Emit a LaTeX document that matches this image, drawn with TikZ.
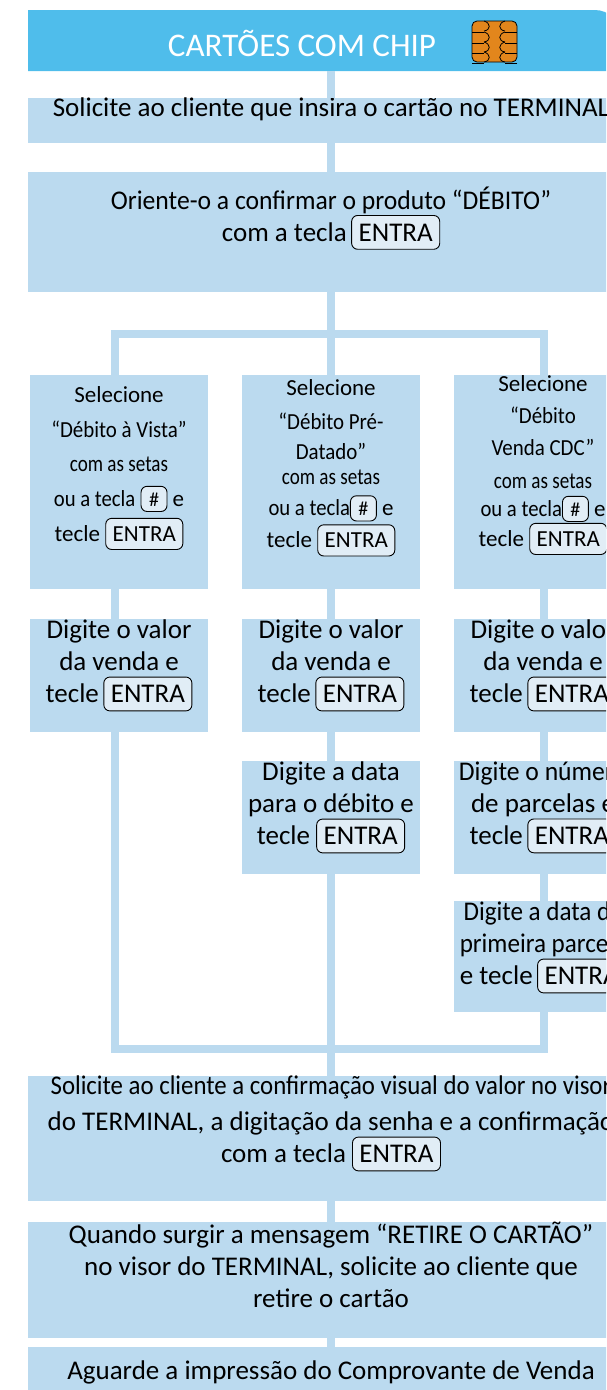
\documentclass[tikz,border=0pt]{standalone}
\usepackage{fontspec}
\setmainfont{Carlito}
\definecolor{boxblue}{HTML}{BBDAEF}
\definecolor{headblue}{HTML}{4FBDEB}
\definecolor{keyblue}{HTML}{E1EDF6}
\definecolor{chiporange}{HTML}{E2861C}
\tikzset{
	stepbox/.style={fill=boxblue,inner sep=0pt,outer sep=0pt,align=center,text=black},
	widebox/.style={stepbox,minimum width=606pt,font=\fontsize{27}{32}\selectfont},
	colbox/.style={stepbox,minimum width=178pt,font=\fontsize{27}{32}\selectfont},
	selbox/.style={colbox,minimum height=214pt,font=\fontsize{23}{30}\selectfont},
	link/.style={boxblue,line width=8pt,line join=miter},
	keycap/.style={draw=black,fill=keyblue,line width=.9pt,rounded corners=6pt,outer sep=0pt,minimum width=0pt,minimum height=0pt,text height=.66em,text depth=0pt,text=black}
}
\newcommand{\tecla}[1]{\raisebox{0pt}[0pt][0pt]{\tikz[baseline=(k.base)]\node[keycap,inner ysep=8pt,inner xsep=7pt] (k) {#1};}}
\newcommand{\teclinha}[1]{\raisebox{0pt}[0pt][0pt]{\tikz[baseline=(h.base)]\node[keycap,inner ysep=5pt,inner xsep=8pt,font=\fontsize{20}{24}\selectfont] (h) {#1};}}
\newcommand{\sqz}[2]{\scalebox{#1}[1]{#2}}
\begin{document}
\begin{tikzpicture}[x=1pt,y=-1pt]
	\useasboundingbox (0,0) rectangle (606,1390);
	\clip (0,0) rectangle (606,1390);

	\fill[headblue] (28,71) -- (28,10) [rounded corners=25pt] -- (620,10) [sharp corners] -- (620,71) -- cycle;
	\node[minimum width=606pt,minimum height=61pt,inner sep=0pt,outer sep=0pt] (header) at (331,40.5) {};
	\node[text=white,font=\fontsize{33}{40}\selectfont,inner sep=0pt] (title) at (302,43) {CARTÕES COM CHIP};

	\draw[black,line width=.8pt,fill=chiporange,rounded corners=5pt] (472,21) rectangle (517,62);
	\foreach \yy in {21,32,42,52} {
		\draw[black,line width=.8pt] (472,\yy+11) -- (484,\yy+11);
		\draw[black,line width=.8pt] (517,\yy+11) -- (505,\yy+11);
		\draw[black,line width=.8pt] (484,\yy) .. controls (491,\yy+2) and (491,\yy+9) .. (484,\yy+10);
		\draw[black,line width=.8pt] (505,\yy) .. controls (498,\yy+2) and (498,\yy+9) .. (505,\yy+10);
	}

	\node[widebox,minimum height=41pt] (insira) at (331,120.5) {Solicite ao cliente que insira o cartão no TERMINAL\\[-6pt]};
	\node[widebox,minimum height=120pt] (orient) at (331,232) {\sqz{.95}{Oriente-o a confirmar o produto “DÉBITO”}\\com a tecla\,\tecla{ENTRA}\\[4pt]};

	\node[selbox] (sel1) at (119,482) {Selecione\\[5pt]\sqz{.91}{“Débito à Vista”}\\[4pt]\sqz{.83}{com as setas}\\[5pt]\sqz{.9}{ou a tecla} \teclinha{\#} e\\[5pt]tecle \tecla{ENTRA}\\[6pt]};
	\node[selbox] (sel2) at (331,482) {Selecione\\[4pt]\sqz{.91}{“Débito Pré-}\\\sqz{.91}{Datado”}\\[-5pt]\sqz{.83}{com as setas}\\[1pt]\sqz{.9}{ou a tecla}\teclinha{\#} e\\[2pt]tecle \tecla{ENTRA}\\[6pt]};
	\node[selbox] (sel3) at (543,482) {Selecione\\[2pt]\sqz{.91}{“Débito}\\[2pt]\sqz{.91}{Venda CDC”}\\[3pt]\sqz{.83}{com as setas}\\[-2pt]\sqz{.9}{ou a tecla}\teclinha{\#} e\\tecle \tecla{ENTRA}\\[12pt]};

	\node[colbox,minimum height=113pt] (valor1) at (119,675.5) {Digite o valor\\da venda e\\tecle\,\tecla{ENTRA}\\[-4pt]};
	\node[colbox,minimum height=113pt] (valor2) at (331,675.5) {Digite o valor\\da venda e\\tecle\,\tecla{ENTRA}\\[-4pt]};
	\node[colbox,minimum height=113pt] (valor3) at (543,675.5) {Digite o valor\\da venda e\\tecle\,\tecla{ENTRA}\\[-4pt]};
	\node[colbox,minimum height=113pt] (data2) at (331,817.5) {Digite a data\\para o débito e\\tecle \tecla{ENTRA}\\[-4pt]};
	\node[colbox,minimum height=113pt] (parcelas3) at (543,817.5) {\sqz{.95}{Digite o número}\\de parcelas e\hspace*{14pt}\\tecle\,\tecla{ENTRA}\\[-4pt]};
	\node[colbox,minimum height=111pt] (primeira3) at (543,956.5) {\sqz{.93}{Digite a data da}\\\sqz{.93}{primeira parcela}\\e tecle\,\tecla{ENTRA}\\[-6pt]};

	\node[widebox,minimum height=125pt] (confirma) at (331,1138.5) {\sqz{.92}{Solicite ao cliente a confirmação visual do valor no visor}\\[4pt]do TERMINAL, a digitação da senha e a confirmação\\com a tecla \tecla{ENTRA}\\[6pt]};
	\node[widebox,minimum height=108pt] (retire) at (331,1280) {Quando surgir a mensagem “RETIRE O CARTÃO”\\no visor do TERMINAL, solicite ao cliente que\\retire o cartão\\[-2pt]};
	\node[widebox,minimum height=86pt,text depth=39pt] (aguarde) at (331,1390) {Aguarde a impressão do Comprovante de Venda};

	\coordinate (busTL) at (115,334);
	\coordinate (busTR) at (544,334);
	\coordinate (busBL) at (115,1049);
	\coordinate (busBR) at (544,1049);

	\draw[link] (header) -- (insira);
	\draw[link] (insira) -- (orient);
	\draw[link] (orient) -- (sel2);
	\draw[link] (sel1.north -| busTL) -- (busTL) -- (busTR) -- (sel3.north -| busTR);
	\draw[link] (sel1.south -| busTL) -- (valor1.north -| busTL);
	\draw[link] (sel2) -- (valor2);
	\draw[link] (sel3.south -| busTR) -- (valor3.north -| busTR);
	\draw[link] (valor2) -- (data2);
	\draw[link] (valor3.south -| busTR) -- (parcelas3.north -| busTR);
	\draw[link] (parcelas3.south -| busTR) -- (primeira3.north -| busTR);
	\draw[link] (valor1.south -| busBL) -- (busBL) -- (busBR) -- (primeira3.south -| busBR);
	\draw[link] (data2) -- (confirma);
	\draw[link] (confirma) -- (retire);
	\draw[link] (retire) -- (aguarde);
\end{tikzpicture}
\end{document}
